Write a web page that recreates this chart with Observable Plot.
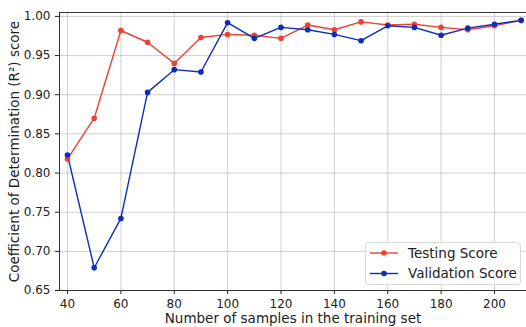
<!DOCTYPE html>
<html><head><meta charset="utf-8">
<script src="https://cdn.jsdelivr.net/npm/d3@7"></script>
<script src="https://cdn.jsdelivr.net/npm/@observablehq/plot@0.6"></script>
<style>
body{margin:0;background:#fff;}
svg{font-family:"DejaVu Sans",sans-serif;}
</style></head>
<body><div id="chart"></div>
<script>
const samples = [40,50,60,70,80,90,100,110,120,130,140,150,160,170,180,190,200,210];
const testing = [0.818,0.870,0.982,0.967,0.940,0.973,0.977,0.976,0.972,0.989,0.983,0.993,0.989,0.990,0.986,0.983,0.988,0.995];
const validation = [0.823,0.679,0.742,0.903,0.932,0.929,0.992,0.972,0.986,0.983,0.977,0.969,0.988,0.986,0.976,0.985,0.990,0.995];
const seriesNames = ["Testing Score","Validation Score"];
const colors = ["#ee4035","#0d2db8"];
const xTicks = [40,60,80,100,120,140,160,180,200];
const yTicks = [0.65,0.70,0.75,0.80,0.85,0.90,0.95,1.00];

const data = [];
samples.forEach((s,i)=>{
  data.push({n:s, score:testing[i], series:seriesNames[0]});
  data.push({n:s, score:validation[i], series:seriesNames[1]});
});

const chart = Plot.plot({
  width:526, height:327,
  marginLeft:59, marginTop:12, marginBottom:37, marginRight:0,
  style:{fontSize:"12px", fontFamily:"DejaVu Sans, sans-serif", color:"#222"},
  x:{domain:[37,212]},
  y:{domain:[0.65,1.005]},
  color:{domain:seriesNames, range:colors},
  marks:[
    Plot.gridX(xTicks,{stroke:"#b0b0b0", strokeOpacity:0.6, strokeWidth:1}),
    Plot.gridY(yTicks,{stroke:"#b0b0b0", strokeOpacity:0.6, strokeWidth:1}),
    Plot.line(data,{x:"n", y:"score", stroke:"series", strokeWidth:1.4}),
    Plot.dot(data,{x:"n", y:"score", fill:"series", r:2.8}),
    Plot.axisX({ticks:xTicks, tickSize:4, label:"Number of samples in the training set", labelAnchor:"center", labelArrow:false, labelOffset:32, fontSize:12}),
    Plot.axisY({ticks:yTicks, tickSize:4, tickFormat:d3.format(".2f"), label:"Coefficient of Determination (R²) score", labelAnchor:"center", labelArrow:false, labelOffset:50, fontSize:12}),
    Plot.frame({stroke:"#333", strokeWidth:1})
  ]
});
d3.select(chart).selectAll("[aria-label='x-axis label'] text, [aria-label='y-axis label'] text").style("font-size","13.5px");
document.getElementById("chart").appendChild(chart);

// legend
const svg = d3.select(chart);
const lg = svg.append("g").attr("text-anchor","start");
lg.append("rect").attr("x",365.5).attr("y",242.5).attr("width",155).attr("height",42).attr("rx",3)
  .attr("fill","#fff").attr("fill-opacity",0.85).attr("stroke","#d8d8d8");
seriesNames.forEach((name,i)=>{
  const y = 253 + i*20.5;
  lg.append("line").attr("x1",370).attr("x2",398).attr("y1",y).attr("y2",y).attr("stroke",colors[i]).attr("stroke-width",1.4);
  lg.append("circle").attr("cx",384).attr("cy",y).attr("r",2.8).attr("fill",colors[i]);
  lg.append("text").attr("x",408).attr("y",y).attr("dy","0.35em").attr("text-anchor","start").style("font-size","13.5px").attr("fill","#222").text(name);
});
</script></body></html>
